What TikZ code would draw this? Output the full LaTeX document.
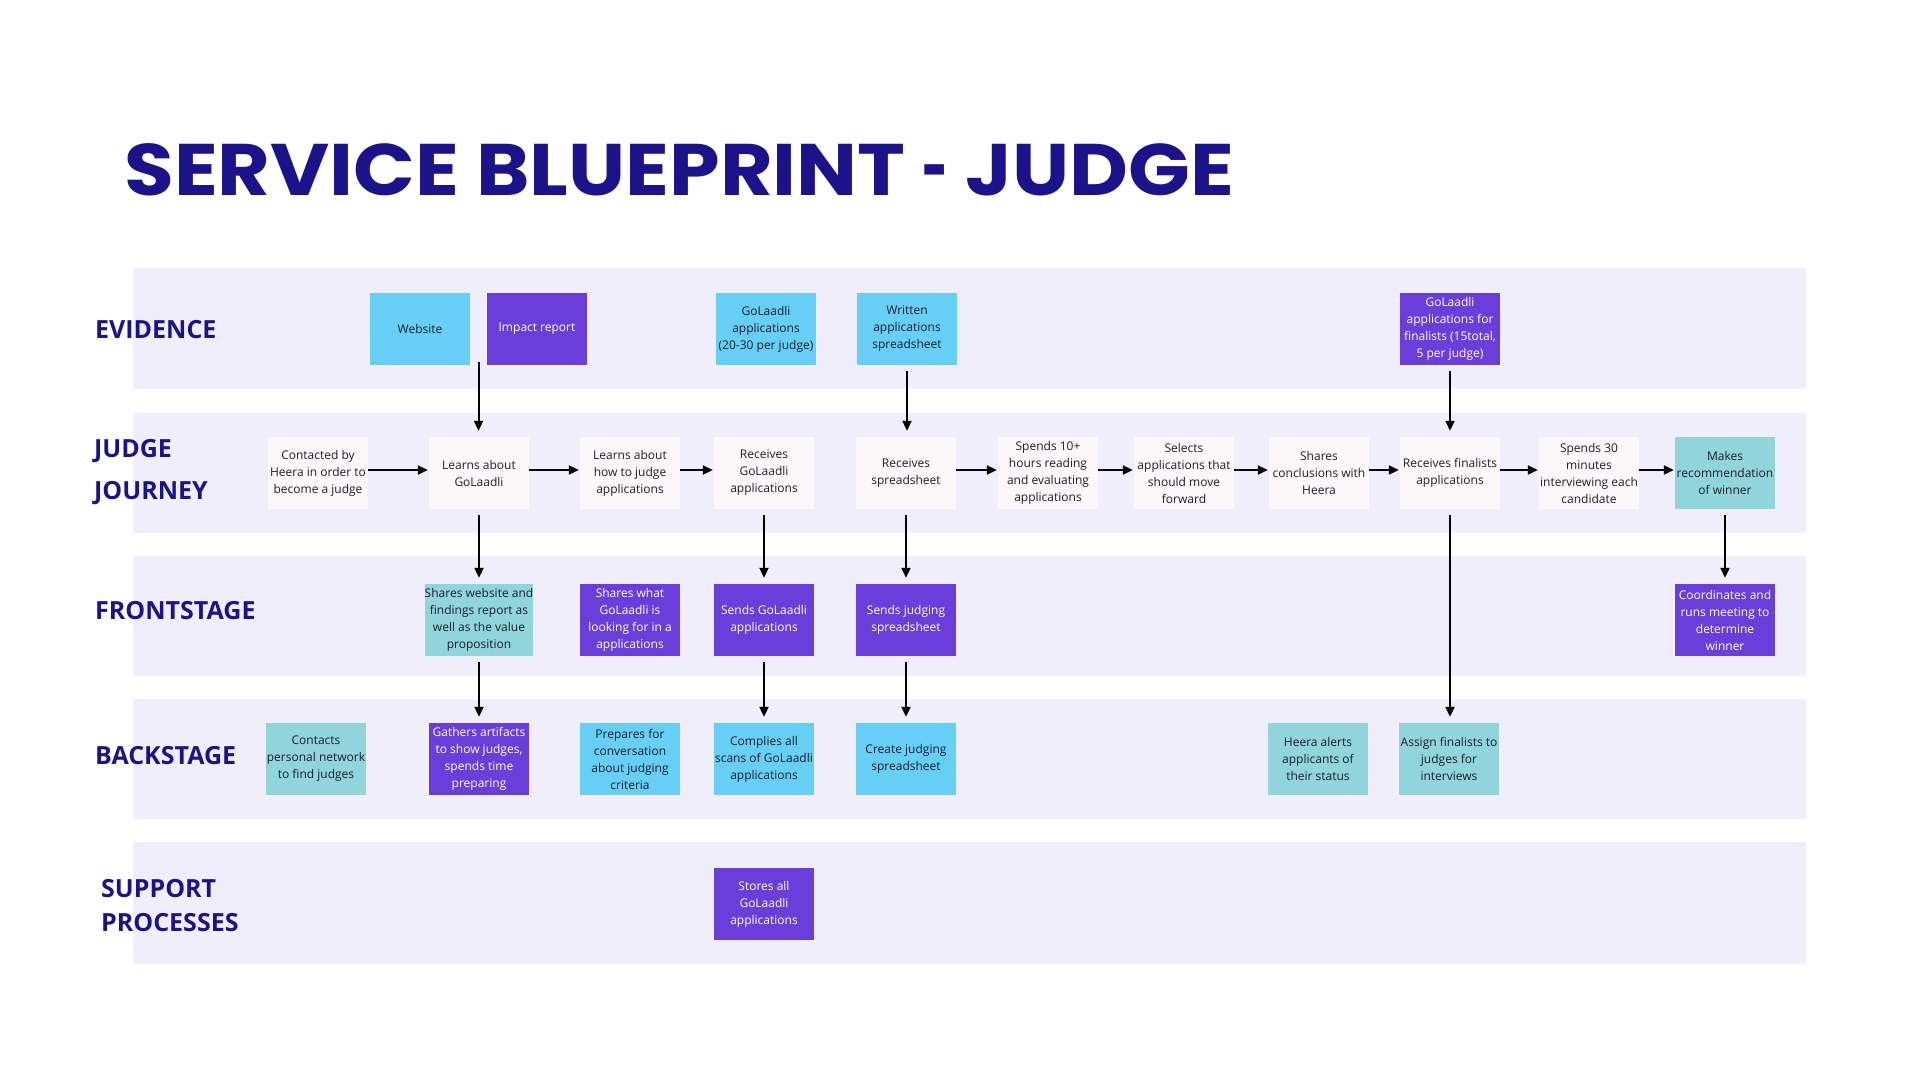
\documentclass[tikz,border=0pt]{standalone}
\usepackage{fontspec}
\setmainfont{Open Sans}
\newfontfamily\titlefont{Poppins}
\usepackage{tikz}
\usetikzlibrary{arrows.meta,positioning,calc}

\definecolor{lanebg}{HTML}{F1EEFB}
\definecolor{navy}{HTML}{1C138C}
\definecolor{skyc}{HTML}{66CFF5}
\definecolor{violetc}{HTML}{6A3EDB}
\definecolor{tealc}{HTML}{8FD5DB}
\definecolor{paperc}{HTML}{FCF8F9}
\definecolor{inkc}{HTML}{1E1E2A}

\begin{document}
\begin{tikzpicture}[x=1pt,y=-1pt,
    every node/.style={inner sep=0pt},
    card/.style={rectangle,minimum width=100pt,minimum height=72pt,align=center,text=inkc,
        font=\fontsize{12}{17}\selectfont},
    paperbox/.style={card,fill=paperc},
    skybox/.style={card,fill=skyc},
    tealbox/.style={card,fill=tealc},
    violetbox/.style={card,fill=violetc,text=white},
    lane/.style={fill=lanebg},
    lanelabel/.style={anchor=west,text=navy,align=left,font=\fontsize{25}{30}\selectfont\bfseries},
    flow/.style={-{Triangle[length=10pt,width=9pt]},line width=2pt,black,shorten >=1pt},
]
\fill[white] (0,0) rectangle (1920,1080);
\useasboundingbox (0,0) rectangle (1920,1080);

% Title
\node[anchor=base west,text=navy,font=\titlefont\bfseries\fontsize{73}{80}\selectfont] (title) at (124,195)
    {\scalebox{1.11}[1]{SERVICE BLUEPRINT \scalebox{0.55}[1]{-} JUDGE}};

% Lanes
\foreach \ytop/\ybot in {268/389, 413/533, 556/676, 699/819, 842/964} {
    \fill[lane] (133,\ytop) rectangle (1806,\ybot);
}
\node[lanelabel] (levidence) at (95,330) {EVIDENCE};
\node[lanelabel] (ljourney) at (94,472) {JUDGE\\[12pt]JOURNEY};
\node[lanelabel] (lfront) at (95,611) {FRONTSTAGE};
\node[lanelabel] (lback) at (95,756) {BACKSTAGE};
\node[lanelabel] (lsupport) at (101,906) {SUPPORT\\[4pt]PROCESSES};

% Evidence
\node[skybox] (web) at (420,329) {Website};
\node[violetbox] (impact) at (537,329) {Impact report};
\node[skybox] (evapps) at (766,329) {GoLaadli\\applications\\(20-30 per judge)};
\node[skybox] (evsheet) at (907,329) {Written\\applications\\spreadsheet};
\node[violetbox] (evfinal) at (1450,329) {GoLaadli\\applications for\\finalists (15total,\\5 per judge)};

% Judge journey
\node[paperbox] (contact) at (318,473) {Contacted by\\Heera in order to\\become a judge};
\node[paperbox] (learn) at (479,473) {Learns about\\GoLaadli};
\node[paperbox] (howto) at (630,473) {Learns about\\how to judge\\applications};
\node[paperbox] (getapps) at (764,473) {Receives\\GoLaadli\\applications};
\node[paperbox] (getsheet) at (906,473) {Receives\\spreadsheet};
\node[paperbox] (reading) at (1048,473) {Spends 10+\\hours reading\\and evaluating\\applications};
\node[paperbox] (select) at (1184,473) {Selects\\applications that\\should move\\forward};
\node[paperbox] (conclude) at (1319,473) {Shares\\conclusions with\\Heera};
\node[paperbox] (getfinal) at (1450,473) {Receives finalists\\applications};
\node[paperbox] (interview) at (1589,473) {Spends 30\\minutes\\interviewing each\\candidate};
\node[tealbox] (recommend) at (1725,473) {Makes\\recommendation\\of winner};

% Frontstage
\node[tealbox] (shareweb) at (479,620) {Shares website and\\findings report as\\well as the value\\proposition};
\node[violetbox] (sharewhat) at (630,620) {Shares what\\GoLaadli is\\looking for in a\\applications};
\node[violetbox] (sendapps) at (764,620) {Sends GoLaadli\\applications};
\node[violetbox] (sendsheet) at (906,620) {Sends judging\\spreadsheet};
\node[violetbox] (meeting) at (1725,620) {Coordinates and\\runs meeting to\\determine\\winner};

% Backstage
\node[tealbox] (network) at (316,759) {Contacts\\personal network\\to find judges};
\node[violetbox] (gather) at (479,759) {Gathers artifacts\\to show judges,\\spends time\\preparing};
\node[skybox] (prepare) at (630,759) {Prepares for\\conversation\\about judging\\criteria};
\node[skybox] (scans) at (764,759) {Complies all\\scans of GoLaadli\\applications};
\node[skybox] (makesheet) at (906,759) {Create judging\\spreadsheet};
\node[tealbox] (alerts) at (1318,759) {Heera alerts\\applicants of\\their status};
\node[tealbox] (assign) at (1449,759) {Assign finalists to\\judges for\\interviews};

% Support processes
\node[violetbox] (store) at (764,904) {Stores all\\GoLaadli\\applications};

% Connectors
\coordinate (webgap) at ($(web.south east)!0.5!(impact.south west)$);
\draw[flow,shorten >=6pt] ([yshift=3pt]webgap) -- (webgap |- learn.north);
\foreach \a/\b in {evsheet/getsheet, evfinal/getfinal, learn/shareweb, getapps/sendapps,
    getsheet/sendsheet, recommend/meeting, shareweb/gather, sendapps/scans,
    sendsheet/makesheet, getfinal/assign} {
    \draw[flow,shorten <=6pt,shorten >=6pt] (\a) -- (\a |- \b.north);
}
\foreach \a/\b in {contact/learn, learn/howto, howto/getapps, getsheet/reading, reading/select,
    select/conclude, conclude/getfinal, getfinal/interview, interview/recommend} {
    \draw[flow] ([yshift=3pt]\a.east) -- ([yshift=3pt]\b.west);
}
\end{tikzpicture}
\end{document}
